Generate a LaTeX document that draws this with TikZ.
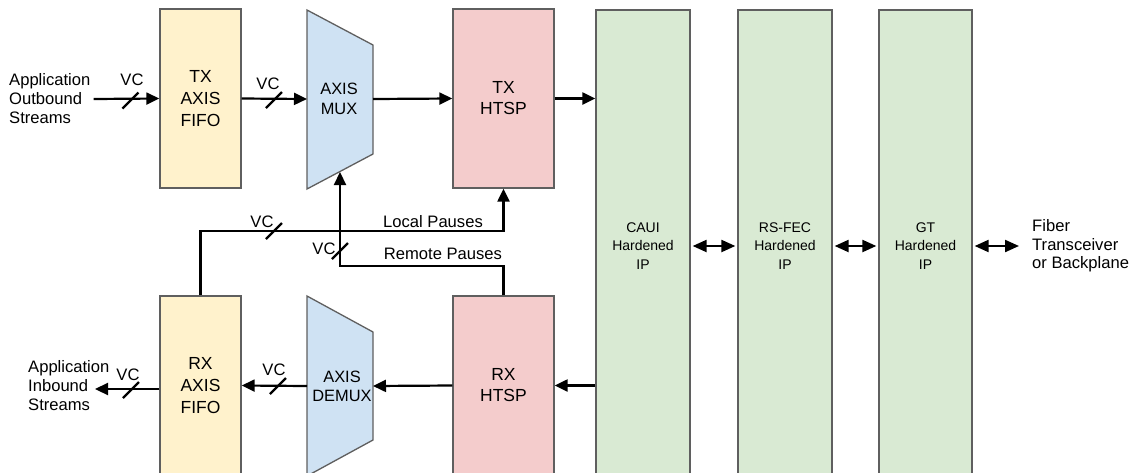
\documentclass[tikz,border=0pt]{standalone}
\usepackage{fontspec}
\setmainfont{Liberation Sans}
\usetikzlibrary{arrows.meta}
\definecolor{fifofill}{HTML}{FFF2CC}
\definecolor{muxfill}{HTML}{CFE2F3}
\definecolor{htspfill}{HTML}{F4CCCC}
\definecolor{ipfill}{HTML}{D9EAD3}
\definecolor{edgegray}{HTML}{5F5F5F}
\begin{document}
\begin{tikzpicture}[x=1pt,y=-1pt,
  box/.style={draw=edgegray, line width=1.3pt, inner sep=0pt, align=center},
  fifobox/.style={box, fill=fifofill, minimum width=81pt, minimum height=179pt, font=\fontsize{17.5}{22}\selectfont},
  htspbox/.style={box, fill=htspfill, minimum width=101pt, minimum height=179pt, font=\fontsize{17.5}{21}\selectfont},
  ipbox/.style={box, fill=ipfill, minimum width=94pt, minimum height=472pt, font=\fontsize{14}{18.5}\selectfont},
  muxshape/.style={draw=edgegray, line width=1.3pt, fill=muxfill, line join=miter},
  lbl/.style={inner sep=1pt, font=\fontsize{16.6}{19}\selectfont},
  conn/.style={line width=2.2pt},
  arr/.style={conn, -{Triangle[length=13pt,width=12pt]}},
  darr/.style={conn, {Triangle[length=14pt,width=12pt]}-{Triangle[length=14pt,width=12pt]}, shorten <=2pt, shorten >=2pt},
  slash/.style={line width=2.2pt}
]
\useasboundingbox (0,0) rectangle (1135,472);

% blocks
\node[fifobox] (txfifo) at (200.5,98.5) {TX\\AXIS\\FIFO};
\node[fifobox] (rxfifo) at (200.5,385.5) {RX\\AXIS\\FIFO};
\node[htspbox] (txhtsp) at (503.5,98.5) {TX\\HTSP};
\node[htspbox] (rxhtsp) at (503.5,385.5) {RX\\HTSP};
\node[ipbox] (caui) at (643,246) {CAUI\\Hardened\\IP};
\node[ipbox] (rsfec) at (785,246) {RS-FEC\\Hardened\\IP};
\node[ipbox, minimum width=93pt] (gt) at (925.5,246) {GT\\Hardened\\IP};

% mux / demux trapezoids
\draw[muxshape] (307,10) -- (373,45) -- (373,154) -- (307,189) -- cycle;
\node[align=center, inner sep=0pt, font=\fontsize{16.4}{20}\selectfont] (mux) at (339,99) {AXIS\\MUX};
\coordinate (muxin) at (307,99);
\coordinate (muxout) at (373,99);
\coordinate (muxbot) at (340,172);
\draw[muxshape] (307,296) -- (373,332) -- (373,440) -- (307,476) -- cycle;
\node[align=center, inner sep=0pt, font=\fontsize{16.4}{19}\selectfont] (demux) at (342,386) {AXIS\\DEMUX};
\coordinate (demuxin) at (373,386);
\coordinate (demuxout) at (307,386);

% outside labels
\node[lbl, align=left, anchor=west] (appout) at (8,99) {Application\\Outbound\\Streams};
\node[lbl, align=left, anchor=west] (appin) at (27,386) {Application\\Inbound\\Streams};
\coordinate (inend) at (95,389);
\node[lbl, align=left, anchor=west, font=\fontsize{16.6}{18.5}\selectfont] (fiber) at (1031,246) {Fiber\\Transceiver\\or Backplane};
\coordinate (fiberend) at (1021,246);

% TX path
\draw[arr] ([xshift=2pt]appout.east) -- (txfifo.west);
\draw[arr] (txfifo.east) -- (muxin);
\draw[arr] (muxout) -- (txhtsp.west);
\draw[arr] (txhtsp.east) -- (caui.west |- txhtsp.east);

% RX path
\draw[arr] (caui.west |- rxhtsp.east) -- (rxhtsp.east);
\draw[arr] (rxhtsp.west) -- (demuxin);
\draw[arr] (demuxout) -- (rxfifo.east);
\draw[arr] (rxfifo.west |- inend) -- (inend);

% pauses
\draw[arr] (rxfifo.north) -- ++(0,-64) -| (txhtsp.south);
\draw[arr] (rxhtsp.north) -- ++(0,-29) -| (muxbot);
\node[lbl] (lp) at (433,222) {Local Pauses};
\node[lbl] (rp) at (443,254) {Remote Pauses};

% hardened IP chain
\draw[darr] (caui.east) -- (rsfec.west);
\draw[darr] (rsfec.east) -- (gt.west);
\draw[darr] (gt.east) -- (fiberend);

% VC bus marks
\coordinate (s1) at (130.5,100.5);
\coordinate (s2) at (274,100);
\coordinate (s3) at (274,231);
\coordinate (s4) at (340,251);
\coordinate (s5) at (278,386);
\coordinate (s6) at (131,390);
\foreach \s in {s1,s2,s3,s4,s5,s6}
  \draw[slash] (\s) +(-8,8) -- +(8,-8);
\node[lbl] (vc1) at (132,80) {VC};
\node[lbl] (vc2) at (268,84) {VC};
\node[lbl] (vc3) at (262,222) {VC};
\node[lbl] (vc4) at (324,249) {VC};
\node[lbl] (vc5) at (274,370) {VC};
\node[lbl] (vc6) at (128,375) {VC};
\end{tikzpicture}
\end{document}
